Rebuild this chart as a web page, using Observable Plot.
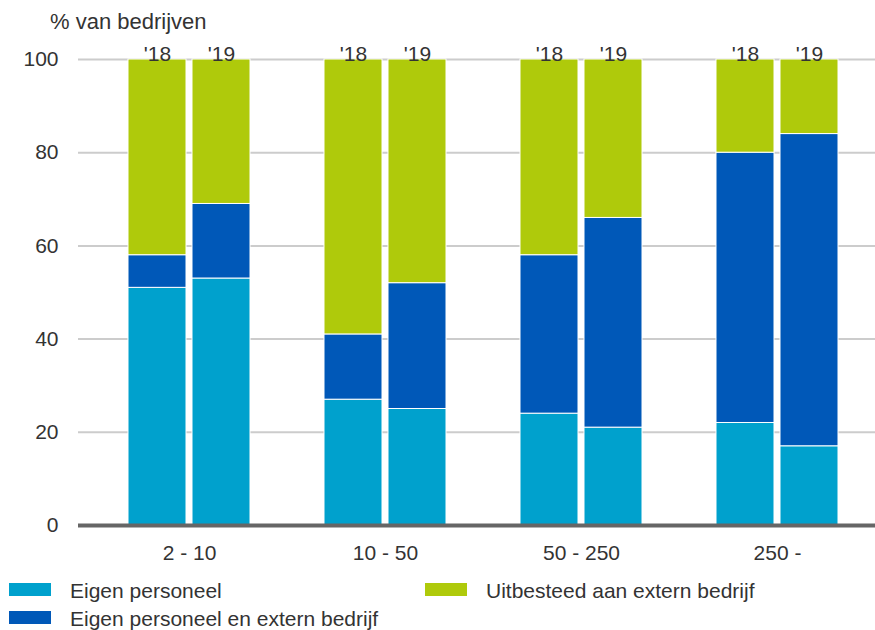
<!DOCTYPE html>
<html>
<head>
<meta charset="utf-8">
<script src="https://cdn.jsdelivr.net/npm/d3@7"></script>
<script src="https://cdn.jsdelivr.net/npm/@observablehq/plot@0.6"></script>
<style>
  html, body { margin: 0; padding: 0; background: #fff; }
  #chart { position: relative; width: 875px; height: 630px; font-family: "Liberation Sans", Arial, sans-serif; color: #333; }
  #ylabel { position: absolute; left: 50px; top: 9px; font-size: 22px; white-space: nowrap; }
  .legend-item { position: absolute; font-size: 21px; white-space: nowrap; line-height: 21px; }
  .legend-item .sw { position: absolute; left: 0; top: 3px; width: 42px; height: 13px; }
  .legend-item .lb { position: absolute; left: 61px; top: 0; }
</style>
</head>
<body>
<div id="chart">
  <div id="ylabel">% van bedrijven</div>
</div>
<script>
// Bedrijfsgrootte (aantal werkzame personen) en jaar
const groups = ["2 - 10", "10 - 50", "50 - 250", "250 -"];
const years = ["'18", "'19"];

// Aandeel bedrijven (%) per grootteklasse, telkens '18 en '19
const eigenPersoneel = [51, 53, 27, 25, 24, 21, 22, 17];
const eigenEnExtern = [7, 16, 14, 27, 34, 45, 58, 67];
const uitbesteed = [42, 31, 59, 48, 42, 34, 20, 16];

const seriesNames = ["Eigen personeel", "Eigen personeel en extern bedrijf", "Uitbesteed aan extern bedrijf"];
const seriesColors = ["#00a1cd", "#0058b8", "#afca0b"];
const yTicks = [0, 20, 40, 60, 80, 100];

const seriesValues = [eigenPersoneel, eigenEnExtern, uitbesteed];
const rows = [];
seriesNames.forEach((name, s) => {
  groups.forEach((g, gi) => {
    years.forEach((yr, yi) => {
      rows.push({groep: g, jaar: yr, reeks: name, waarde: seriesValues[s][gi * years.length + yi]});
    });
  });
});

// Each size class is one band; the two years split it into a left and a right bar
const barWidth = 58;
const barGap = 6;
const yearMarks = years.flatMap((yr, yi) => {
  const side = yi === 0 ? {insetRight: barWidth + barGap} : {insetLeft: barWidth + barGap};
  const shift = (yi === 0 ? -1 : 1) * (barWidth + barGap) / 2;
  return [
    Plot.barY(rows.filter((d) => d.jaar === yr), Plot.stackY({order: null}, {
      x: "groep", y: "waarde", fill: "reeks", stroke: "white", strokeWidth: 1, ...side
    })),
    Plot.text(groups, {x: (d) => d, y: () => 100, text: () => yr, lineAnchor: "bottom", dx: shift, dy: 1, fill: "#333"})
  ];
});

const plot = Plot.plot({
  width: 875,
  height: 630,
  marginTop: 59,
  marginBottom: 105,
  marginLeft: 78,
  marginRight: 0,
  style: {fontFamily: "'Liberation Sans', Arial, sans-serif", fontSize: "21px", color: "#333", background: "transparent"},
  x: {domain: groups, paddingInner: 0.378, paddingOuter: 0.222, align: 0.575, label: null, axis: null},
  y: {domain: [0, 100], axis: null},
  color: {domain: seriesNames, range: seriesColors},
  marks: [
    Plot.ruleY(yTicks.filter((d) => d > 0), {stroke: "#cccccc", strokeWidth: 2}),
    Plot.axisY(yTicks, {anchor: "left", tickSize: 0, tickPadding: 20, label: null, fill: "#333"}),
    ...yearMarks,
    Plot.axisX({tickSize: 0, tickPadding: 20, label: null, fill: "#333"}),
    Plot.ruleY([0], {stroke: "#666666", strokeWidth: 4})
  ]
});

const chart = document.getElementById("chart");
chart.insertBefore(plot, chart.firstChild);
plot.style.position = "absolute";
plot.style.left = "0";
plot.style.top = "0";

// Legenda in twee kolommen
const legendPos = [
  {left: 9, top: 580},
  {left: 9, top: 608},
  {left: 425, top: 580}
];
seriesNames.forEach((name, i) => {
  const item = document.createElement("div");
  item.className = "legend-item";
  item.style.left = legendPos[i].left + "px";
  item.style.top = legendPos[i].top + "px";
  const sw = document.createElement("div");
  sw.className = "sw";
  sw.style.background = seriesColors[i];
  const lb = document.createElement("div");
  lb.className = "lb";
  lb.textContent = name;
  item.appendChild(sw);
  item.appendChild(lb);
  chart.appendChild(item);
});
</script>
</body>
</html>
